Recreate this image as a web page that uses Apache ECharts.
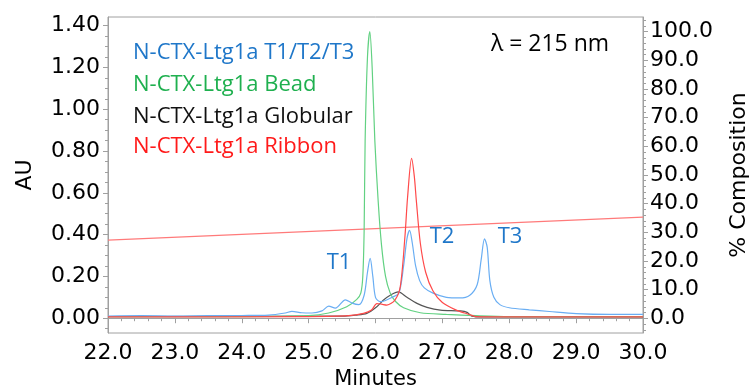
<!DOCTYPE html>
<html>
<head>
<meta charset="utf-8">
<script src="https://cdn.jsdelivr.net/npm/echarts@6/dist/echarts.min.js"></script>
<style>
  html, body { margin: 0; padding: 0; background: #fff; }
  #chart { width: 753px; height: 388px; }
</style>
</head>
<body>
<div id="chart"></div>
<script>
// 轴刻度
const xTicks = [22, 23, 24, 25, 26, 27, 28, 29, 30]
const auTicks = [0, 0.2, 0.4, 0.6, 0.8, 1.0, 1.2, 1.4]
const pctTicks = [0, 10, 20, 30, 40, 50, 60, 70, 80, 90, 100]

// T1/T2/T3 (blue)
const triTime = [22.0, 22.5, 23.0, 23.5, 24.0, 24.4, 24.65, 24.75, 24.9, 25.05, 25.2, 25.3, 25.4, 25.55, 25.65, 25.75, 25.83, 25.88, 25.92, 25.96, 26.0, 26.07, 26.15, 26.25, 26.35, 26.42, 26.47, 26.51, 26.55, 26.6, 26.66, 26.73, 26.86, 27.06, 27.26, 27.41, 27.52, 27.58, 27.63, 27.67, 27.71, 27.77, 27.86, 28.0, 28.3, 28.6, 29.0, 29.5, 30.0]
const triAU = [0.010, 0.012, 0.010, 0.012, 0.013, 0.015, 0.025, 0.033, 0.026, 0.025, 0.035, 0.058, 0.048, 0.088, 0.072, 0.065, 0.11, 0.22, 0.286, 0.20, 0.10, 0.079, 0.085, 0.10, 0.12, 0.25, 0.38, 0.42, 0.36, 0.25, 0.18, 0.145, 0.12, 0.10, 0.097, 0.11, 0.16, 0.28, 0.38, 0.34, 0.18, 0.10, 0.065, 0.05, 0.04, 0.032, 0.022, 0.018, 0.018]

// Bead (green)
const beadTime = [22.0, 24.0, 25.0, 25.3, 25.57, 25.72, 25.78, 25.81, 25.83, 25.845, 25.88, 25.915, 25.95, 25.99, 26.04, 26.09, 26.15, 26.22, 26.3, 26.42, 26.67, 27.06, 27.5, 28.0, 30.0]
const beadAU = [0.008, 0.008, 0.012, 0.025, 0.055, 0.09, 0.12, 0.2, 0.42, 0.85, 1.25, 1.372, 1.2, 0.85, 0.56, 0.35, 0.2, 0.12, 0.08, 0.05, 0.026, 0.018, 0.012, 0.008, 0.008]

// Globular (black)
const globTime = [22.0, 25.5, 25.7, 25.87, 26.02, 26.12, 26.22, 26.34, 26.47, 26.62, 26.77, 26.97, 27.27, 27.37, 27.44, 27.6, 30.0]
const globAU = [0.008, 0.010, 0.015, 0.023, 0.055, 0.087, 0.11, 0.126, 0.10, 0.071, 0.052, 0.039, 0.035, 0.028, 0.010, 0.006, 0.006]

// Ribbon (red)
const ribTime = [22.0, 25.0, 25.6, 25.82, 25.94, 26.02, 26.09, 26.17, 26.29, 26.37, 26.44, 26.48, 26.54, 26.58, 26.61, 26.67, 26.75, 26.86, 27.0, 27.2, 27.4, 27.5, 28.0, 30.0]
const ribAU = [0.006, 0.008, 0.012, 0.023, 0.039, 0.07, 0.067, 0.063, 0.087, 0.15, 0.39, 0.58, 0.765, 0.68, 0.565, 0.36, 0.22, 0.13, 0.075, 0.04, 0.018, 0.008, 0.006, 0.006]

// % Composition gradient
const gradTime = [22.0, 30.0]
const gradPct = [27.3, 35.3]

const pair = (xs, ys) => xs.map((x, i) => [x, ys[i]])
const range = (a, b, step) => {
  const out = []
  for (let v = a; v <= b + 1e-9; v += step) out.push(+v.toFixed(4))
  return out
}

const axisGray = '#a0a0a0'
const axisFont = { color: '#000', fontFamily: 'DejaVu Sans', fontSize: 22 }
const noteFont = '22px "Open Sans"'

const chart = echarts.init(document.getElementById('chart'))

const lineSeries = (name, data, color, yIdx) => ({
  name,
  type: 'line',
  data,
  yAxisIndex: yIdx || 0,
  smooth: 0.3,
  showSymbol: false,
  lineStyle: { width: 1.2, color },
  itemStyle: { color },
  animation: false
})

chart.setOption({
  animation: false,
  grid: {
    left: 108,
    right: 110,
    top: 17,
    height: 316,
    outerBoundsMode: 'none',
    containLabel: false,
    show: true,
    borderColor: axisGray,
    borderWidth: 1
  },
  xAxis: {
    type: 'value',
    min: 22,
    max: 30,
    interval: 1,
    name: 'Minutes',
    nameLocation: 'middle',
    nameGap: 36,
    nameMoveOverlap: false,
    nameTextStyle: { color: '#000', fontFamily: 'DejaVu Sans', fontSize: 21 },
    axisLine: { show: true, lineStyle: { color: axisGray } },
    axisTick: { show: true, length: 5, lineStyle: { color: axisGray } },
    minorTick: { show: true, splitNumber: 5, length: 3, lineStyle: { color: axisGray } },
    axisLabel: { ...axisFont, margin: 9, formatter: v => v.toFixed(1) },
    splitLine: { show: false }
  },
  yAxis: [
    {
      type: 'value',
      position: 'left',
      min: -0.0708,
      max: 1.4417,
      name: 'AU',
      nameLocation: 'middle',
      nameRotate: 90,
      nameGap: 72,
      nameMoveOverlap: false,
      nameTextStyle: { color: '#000', fontFamily: 'DejaVu Sans', fontSize: 22 },
      axisLine: { show: true, lineStyle: { color: axisGray } },
      axisTick: { show: true, length: 5, customValues: auTicks, lineStyle: { color: axisGray } },
      axisLabel: { ...axisFont, margin: 8, customValues: auTicks, formatter: v => v.toFixed(2) },
      splitLine: { show: false }
    },
    {
      type: 'value',
      position: 'right',
      min: -5.1,
      max: 105.1,
      name: '% Composition',
      nameLocation: 'middle',
      nameRotate: 90,
      nameGap: 85,
      nameMoveOverlap: false,
      nameTextStyle: { color: '#000', fontFamily: 'DejaVu Sans', fontSize: 22 },
      axisLine: { show: true, lineStyle: { color: axisGray } },
      axisTick: { show: true, length: 5, customValues: pctTicks, lineStyle: { color: axisGray } },
      axisLabel: { ...axisFont, margin: 7, customValues: pctTicks, formatter: v => v.toFixed(1) },
      splitLine: { show: false }
    },
    {
      type: 'value',
      position: 'left',
      min: -0.0708,
      max: 1.4417,
      axisLine: { show: false },
      axisTick: { show: true, length: 3, customValues: range(-0.05, 1.4, 0.05), lineStyle: { color: axisGray } },
      axisLabel: { show: false },
      splitLine: { show: false }
    },
    {
      type: 'value',
      position: 'right',
      min: -5.1,
      max: 105.1,
      axisLine: { show: false },
      axisTick: { show: true, length: 3, customValues: range(-4, 104, 2), lineStyle: { color: axisGray } },
      axisLabel: { show: false },
      splitLine: { show: false }
    }
  ],
  series: [
    lineSeries('Gradient', pair(gradTime, gradPct), '#ff7a7a', 1),
    lineSeries('Globular', pair(globTime, globAU), '#555555'),
    lineSeries('Bead', pair(beadTime, beadAU), '#62d182'),
    lineSeries('T1/T2/T3', pair(triTime, triAU), '#6aaef3'),
    lineSeries('Ribbon', pair(ribTime, ribAU), '#ff4a4a')
  ],
  graphic: [
    { type: 'text', x: 133, y: 53, style: { text: 'N-CTX-Ltg1a T1/T2/T3', fill: '#1f77c9', font: noteFont, verticalAlign: 'middle' } },
    { type: 'text', x: 133, y: 85, style: { text: 'N-CTX-Ltg1a Bead', fill: '#1fb04f', font: noteFont, verticalAlign: 'middle' } },
    { type: 'text', x: 133, y: 117, style: { text: 'N-CTX-Ltg1a Globular', fill: '#111111', font: noteFont, verticalAlign: 'middle' } },
    { type: 'text', x: 133, y: 147, style: { text: 'N-CTX-Ltg1a Ribbon', fill: '#ff1a1a', font: noteFont, verticalAlign: 'middle' } },
    { type: 'text', x: 550, y: 44, style: { text: 'λ = 215 nm', fill: '#000', font: '23px "Open Sans"', align: 'center', verticalAlign: 'middle' } },
    { type: 'text', x: 339, y: 263, style: { text: 'T1', fill: '#1f77c9', font: noteFont, align: 'center', verticalAlign: 'middle' } },
    { type: 'text', x: 442, y: 237, style: { text: 'T2', fill: '#1f77c9', font: noteFont, align: 'center', verticalAlign: 'middle' } },
    { type: 'text', x: 510, y: 237, style: { text: 'T3', fill: '#1f77c9', font: noteFont, align: 'center', verticalAlign: 'middle' } }
  ]
})
</script>
</body>
</html>
